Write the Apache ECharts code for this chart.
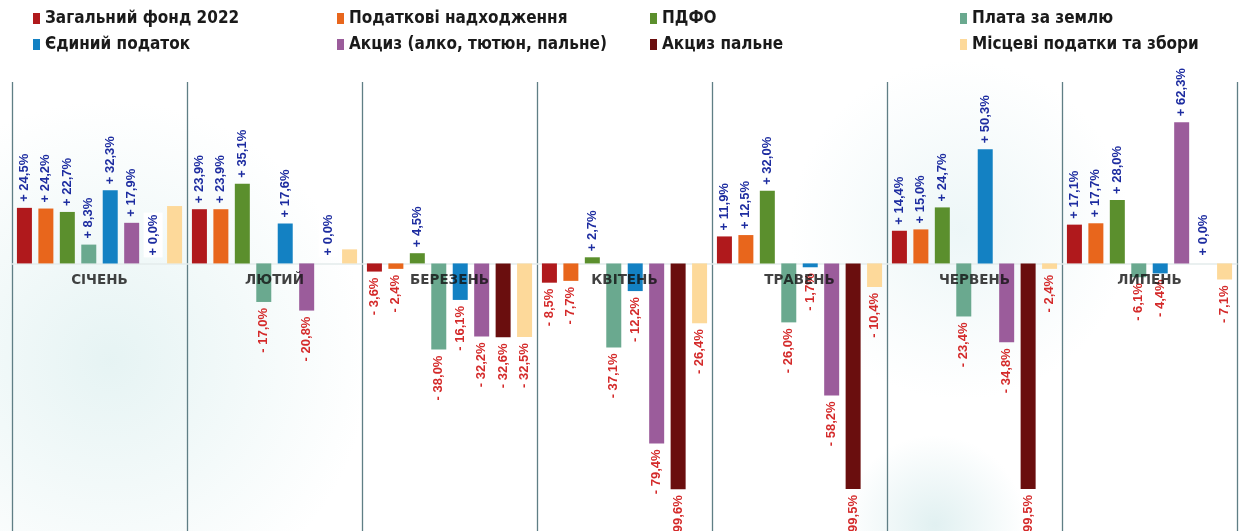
<!DOCTYPE html>
<html>
<head>
<meta charset="utf-8">
<script src="https://cdn.jsdelivr.net/npm/echarts@6/dist/echarts.min.js"></script>
<style>
html,body{margin:0;padding:0;background:#fff;}
#c{width:1243px;height:531px;}
</style>
</head>
<body>
<div id="c"></div>
<script>
const months = ['СІЧЕНЬ', 'ЛЮТИЙ', 'БЕРЕЗЕНЬ', 'КВІТЕНЬ', 'ТРАВЕНЬ', 'ЧЕРВЕНЬ', 'ЛИПЕНЬ'];
const seriesNames = ['Загальний фонд 2022', 'Податкові надходження', 'ПДФО', 'Плата за землю',
  'Єдиний податок', 'Акциз (алко, тютюн, пальне)', 'Акциз пальне', 'Місцеві податки та збори'];
const colors = ['#b0191c', '#e8661c', '#5b8f2d', '#6aa98f', '#1381c3', '#9b5c9b', '#6a0e0e', '#fdd99a'];

const zagalnyi = [24.5, 23.9, -3.6, -8.5, 11.9, 14.4, 17.1];
const podatkovi = [24.2, 23.9, -2.4, -7.7, 12.5, 15.0, 17.7];
const pdfo = [22.7, 35.1, 4.5, 2.7, 32.0, 24.7, 28.0];
const zemlia = [8.3, -17.0, -38.0, -37.1, -26.0, -23.4, -6.1];
const yedynyi = [32.3, 17.6, -16.1, -12.2, -1.7, 50.3, -4.4];
const aktsyz = [17.9, -20.8, -32.2, -79.4, -58.2, -34.8, 62.3];
const aktsyzPalne = [0.0, 0.0, -32.6, -99.6, -99.5, -99.5, 0.0];
const mistsevi = [25.3, 6.2, -32.5, -26.4, -10.4, -2.4, -7.1];
// labels not shown in the original: [seriesIndex, monthIndex]
const hiddenLabels = [[7, 0], [7, 1]];
// month name sits just below the zero line (value position)
const monthLabelLevel = -7.5;

const values = [zagalnyi, podatkovi, pdfo, zemlia, yedynyi, aktsyz, aktsyzPalne, mistsevi];

function fmt(v) {
  const s = Math.abs(v).toFixed(1).replace('.', ',') + '%';
  return (v >= 0 ? '+ ' : '- ') + s;
}
function isHidden(si, mi) {
  return hiddenLabels.some(h => h[0] === si && h[1] === mi);
}

const series = values.map((arr, si) => ({
  name: seriesNames[si],
  type: 'bar',
  barWidth: 15,
  barGap: '43%',
  itemStyle: { color: colors[si] },
  data: arr.map((v, mi) => {
    const pos = v >= 0;
    return {
      value: v,
      label: {
        show: !isHidden(si, mi),
        position: pos ? 'top' : 'bottom',
        rotate: 90,
        align: pos ? 'left' : 'right',
        verticalAlign: 'middle',
        distance: 6,
        color: pos ? '#1d2ca0' : '#d42a2a',
        fontFamily: 'Liberation Sans',
        fontWeight: 'bold',
        fontSize: 13,
        backgroundColor: v === 0 ? '#ffffff' : 'transparent',
        padding: v === 0 ? [3, 2] : 0,
        formatter: fmt(v)
      }
    };
  })
}));

series.push({
  name: 'months',
  type: 'scatter',
  symbolSize: 0,
  silent: true,
  z: 5,
  data: months.map(() => monthLabelLevel),
  label: {
    show: true,
    position: 'inside',
    color: '#111',
    fontFamily: 'DejaVu Sans',
    fontWeight: 'bold',
    fontSize: 13.5,
    formatter: p => months[p.dataIndex]
  }
});

const legendCols = [[0, 4], [1, 5], [2, 6], [3, 7]];
const legendLeft = [33, 337, 650, 960];
const legends = legendCols.map((col, i) => ({
  orient: 'vertical',
  left: legendLeft[i],
  top: 10,
  padding: 0,
  icon: 'rect',
  itemWidth: 7,
  itemHeight: 11,
  itemGap: 9,
  selectedMode: false,
  data: col.map(k => seriesNames[k]),
  textStyle: {
    fontFamily: 'DejaVu Sans Condensed',
    fontWeight: 'bold',
    fontSize: 17,
    lineHeight: 17,
    color: '#1a1a1a'
  }
}));

const chart = echarts.init(document.getElementById('c'), null, { renderer: 'canvas' });
chart.setOption({
  backgroundColor: '#ffffff',
  animation: false,
  graphic: [
    {
      type: 'circle', silent: true, z: -10,
      shape: { cx: 110, cy: 360, r: 260 },
      style: {
        fill: {
          type: 'radial', x: 0.5, y: 0.5, r: 0.5,
          colorStops: [{ offset: 0, color: 'rgba(205,232,232,0.5)' }, { offset: 1, color: 'rgba(205,232,232,0)' }]
        }
      }
    },
    {
      type: 'circle', silent: true, z: -10,
      shape: { cx: 960, cy: 230, r: 170 },
      style: {
        fill: {
          type: 'radial', x: 0.5, y: 0.5, r: 0.5,
          colorStops: [{ offset: 0, color: 'rgba(215,236,238,0.45)' }, { offset: 1, color: 'rgba(215,236,238,0)' }]
        }
      }
    },
    {
      type: 'circle', silent: true, z: -10,
      shape: { cx: 935, cy: 525, r: 90 },
      style: {
        fill: {
          type: 'radial', x: 0.5, y: 0.5, r: 0.5,
          colorStops: [{ offset: 0, color: 'rgba(200,228,230,0.55)' }, { offset: 1, color: 'rgba(200,228,230,0)' }]
        }
      }
    }
  ],
  legend: legends,
  grid: { left: 12, right: 6, top: 82, bottom: 0, containLabel: false, outerBoundsMode: 'none' },
  xAxis: {
    type: 'category',
    data: months,
    axisLine: { show: true, onZero: true, lineStyle: { color: '#e3ecec', width: 1.5 } },
    axisTick: { show: false },
    splitLine: { show: true, lineStyle: { color: '#5f7e85', width: 1.3 } },
    axisLabel: { show: false }
  },
  yAxis: {
    type: 'value',
    min: -118,
    max: 80,
    show: false,
    splitLine: { show: false }
  },
  series: series
});
</script>
</body>
</html>
